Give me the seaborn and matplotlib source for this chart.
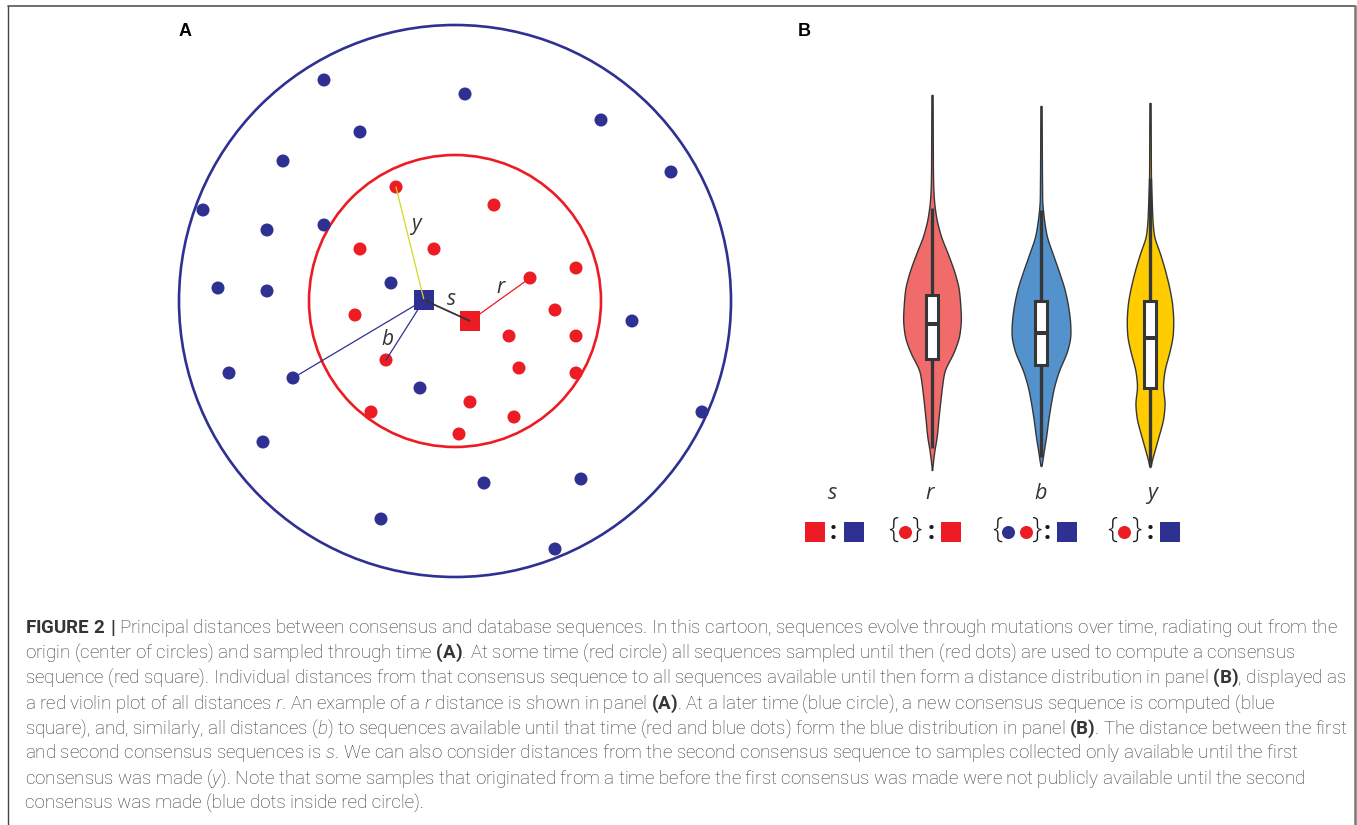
import numpy as np
import pandas as pd
import matplotlib
matplotlib.use("Agg")
import matplotlib.pyplot as plt
from matplotlib.patches import Circle, Rectangle
from matplotlib.lines import Line2D
import seaborn as sns

# ---------------------------------------------------------------------------
# Panel A: cartoon of sequences radiating out from the origin
# (coordinates in arbitrary sequence-space units, origin = first ancestor)
# ---------------------------------------------------------------------------
RING_RADII = [27.6, 14.6]            # sampling horizon: later time, earlier time
LATER_X = [-13.1, 1.0, 14.6, -9.5, -17.2, 21.6, -25.2, -18.8, -13.1, -23.7, -18.8,
           -6.4, 17.7, -22.6, -16.2, -3.5, 24.7, -19.2, 2.9, 12.6, -7.4, 10.0]
LATER_Y = [22.1, 20.7, 18.1, 16.9, 14.0, 12.9, 9.1, 7.1, 7.6, 1.3, 1.0,
           1.8, -2.0, -7.2, -7.7, -8.7, -11.1, -14.1, -18.2, -17.8, -21.8, -24.8]
EARLY_X = [-5.9, 3.9, -9.5, -2.1, 12.1, 7.5, -10.0, 10.0, 5.4, 12.1, -6.9,
           6.4, 12.1, -8.4, 1.5, 5.9, 0.4]
EARLY_Y = [11.4, 9.6, 5.2, 5.2, 3.3, 2.3, -1.4, -0.9, -3.5, -3.5, -5.9,
           -6.7, -7.2, -11.1, -10.1, -11.6, -13.3]
CONSENSUS_X = [-3.1, 1.5]             # second (blue), first (red)
CONSENSUS_Y = [0.1, -2.0]

# example distances: (label, start, end)
DISTANCE_LINKS = [
    ("y", ("early", 0), ("cons", 0)),
    ("s", ("cons", 0), ("cons", 1)),
    ("r", ("cons", 1), ("early", 5)),
    ("b", ("cons", 0), ("later", 14)),
    ("b", ("cons", 0), ("early", 10)),
]
DISTANCE_LABELS = ["y", "s", "r", "b"]
DISTANCE_LABEL_X = [-3.9, -0.35, 4.6, -6.75]
DISTANCE_LABEL_Y = [7.1, -0.4, 0.8, -4.4]

# ---------------------------------------------------------------------------
# Panel B: distance distributions (arbitrary distance units)
# ---------------------------------------------------------------------------
CATEGORIES = ["s", "r", "b", "y"]
R_LEVELS = [37.7, 30.2, 28.5, 26.9, 25.2, 23.5, 21.9, 20.2, 18.5, 16.9, 15.2,
            13.5, 11.9, 10.2, 8.5, 6.9, 5.2, 3.5, 2.2, 1.2, 0.2]
R_DENSITY = [0.02, 0.03, 0.04, 0.07, 0.15, 0.30, 0.52, 0.73, 0.89, 0.94, 0.97,
             0.91, 0.72, 0.41, 0.33, 0.27, 0.21, 0.16, 0.08, 0.04, 0.0]
B_LEVELS = [36.6, 30.2, 26.9, 25.2, 23.5, 21.9, 20.2, 18.5, 16.9, 15.2, 13.5,
            11.9, 10.2, 8.5, 6.9, 5.2, 3.5, 1.9, 0.9, 0.6]
B_DENSITY = [0.02, 0.03, 0.04, 0.10, 0.19, 0.38, 0.58, 0.77, 0.89, 0.97, 0.99,
             0.86, 0.60, 0.43, 0.33, 0.24, 0.17, 0.08, 0.04, 0.0]
Y_LEVELS = [36.9, 29.4, 26.9, 25.2, 23.5, 21.9, 20.2, 18.5, 16.9, 15.2, 13.5,
            11.9, 10.2, 8.5, 6.9, 5.2, 3.5, 1.9, 0.5]
Y_DENSITY = [0.02, 0.03, 0.06, 0.08, 0.13, 0.33, 0.50, 0.64, 0.74, 0.78, 0.76,
             0.64, 0.48, 0.42, 0.50, 0.44, 0.28, 0.13, 0.0]
# box statistics: lower whisker, q1, median, q3, upper whisker
R_BOX = [2.4, 11.3, 14.8, 17.7, 26.4]
B_BOX = [1.5, 10.7, 13.9, 17.1, 26.2]
Y_BOX = [0.6, 8.4, 13.4, 17.1, 29.4]

CAPTION_LINES = [
    r"$\mathbf{FIGURE\ 2\ |}$ Principal distances between consensus and database sequences. In this cartoon, sequences evolve through mutations over time, radiating out from the",
    r"origin (center of circles) and sampled through time $\mathbf{(A)}$. At some time (red circle) all sequences sampled until then (red dots) are used to compute a consensus",
    r"sequence (red square). Individual distances from that consensus sequence to all sequences available until then form a distance distribution in panel $\mathbf{(B)}$, displayed as",
    r"a red violin plot of all distances $\mathit{r}$. An example of a $\mathit{r}$ distance is shown in panel $\mathbf{(A)}$. At a later time (blue circle), a new consensus sequence is computed (blue",
    r"square), and, similarly, all distances ($\mathit{b}$) to sequences available until that time (red and blue dots) form the blue distribution in panel $\mathbf{(B)}$. The distance between the first",
    r"and second consensus sequences is $\mathit{s}$. We can also consider distances from the second consensus sequence to samples collected only available until the first",
    r"consensus was made ($\mathit{y}$). Note that some samples that originated from a time before the first consensus was made were not publicly available until the second",
    r"consensus was made (blue dots inside red circle).",
]

# ---------------------------------------------------------------------------
NAVY = "#2E3192"
RED = "#ED1C24"
LINK_COLORS = {"y": "#D2D820", "s": "#333333", "r": RED, "b": NAVY}
VIOLIN_COLORS = {"r": "#F26B6B", "b": "#5492CE", "y": "#FFCC00"}
EDGE = "#363636"
INK = "#333333"

sns.set_theme(style="white")
plt.rcParams["font.family"] = ["Open Sans", "DejaVu Sans"]
plt.rcParams["mathtext.fontset"] = "custom"
plt.rcParams["mathtext.rm"] = "Roboto:light"
plt.rcParams["mathtext.it"] = "Roboto:italic:light"
plt.rcParams["mathtext.bf"] = "Roboto:bold"

W, H = 1357, 825
fig = plt.figure(figsize=(W / 100, H / 100), dpi=100)
fig.patch.set_facecolor("white")


def frac(x0, y0, x1, y1):
    return [x0 / W, 1 - y1 / H, (x1 - x0) / W, (y1 - y0) / H]


# overlay in pixel units for frame, panel letters, symbol key and caption
axT = fig.add_axes([0, 0, 1, 1])
axT.set_xlim(0, W)
axT.set_ylim(H, 0)
axT.axis("off")

# ----------------------------- panel A --------------------------------------
axA = fig.add_axes(frac(170, 15, 740, 590))
axA.set_xlim(-28.5, 28.5)
axA.set_ylim(-28.9, 28.6)
axA.axis("off")

for radius, col in zip(RING_RADII, [NAVY, RED]):
    axA.add_patch(Circle((0, 0), radius, fill=False, ec=col, lw=1.9, zorder=2))

dots = pd.DataFrame({
    "x": LATER_X + EARLY_X,
    "y": LATER_Y + EARLY_Y,
    "when": ["later"] * len(LATER_X) + ["early"] * len(EARLY_X),
})
sns.scatterplot(data=dots, x="x", y="y", hue="when",
                palette={"later": NAVY, "early": RED}, s=88, linewidth=0,
                legend=False, ax=axA, zorder=3)

cons = pd.DataFrame({"x": CONSENSUS_X, "y": CONSENSUS_Y, "which": ["second", "first"]})
sns.scatterplot(data=cons, x="x", y="y", hue="which",
                palette={"second": NAVY, "first": RED}, marker="s", s=228,
                linewidth=0, legend=False, ax=axA, zorder=4)

points = {
    "later": list(zip(LATER_X, LATER_Y)),
    "early": list(zip(EARLY_X, EARLY_Y)),
    "cons": list(zip(CONSENSUS_X, CONSENSUS_Y)),
}
for label, (g0, i0), (g1, i1) in DISTANCE_LINKS:
    (x0, y0), (x1, y1) = points[g0][i0], points[g1][i1]
    sns.lineplot(x=[x0, x1], y=[y0, y1], sort=False, estimator=None,
                 color=LINK_COLORS[label], lw=1.3 if label == "s" else 0.9,
                 ax=axA, zorder=5)

for lab, lx, ly in zip(DISTANCE_LABELS, DISTANCE_LABEL_X, DISTANCE_LABEL_Y):
    axA.text(lx, ly, lab, fontsize=15, style="italic", color=INK,
             ha="center", va="baseline", zorder=6)

# ----------------------------- panel B --------------------------------------
COL_PX = 109.0   # pixels between category columns
axB = fig.add_axes(frac(770, 60, 1200, 560))
axB.set_xlim((770 - 823) / COL_PX, (1200 - 823) / COL_PX)
axB.set_ylim(-8.8, 41.2)
axB.axis("off")

HALF_WIDTH = 30 / COL_PX
BOX_HALF = 6.3 / COL_PX


def smooth_profile(levels, density, n=500, sigma=0.45):
    lv = np.asarray(levels, float)[::-1]
    dv = np.asarray(density, float)[::-1]
    grid = np.linspace(lv[0], lv[-1], n)
    w = np.interp(grid, lv, dv)
    step = grid[1] - grid[0]
    half = int(3 * sigma / step)
    k = np.exp(-0.5 * ((np.arange(-half, half + 1) * step) / sigma) ** 2)
    k /= k.sum()
    ws = np.convolve(np.pad(w, half, mode="edge"), k, mode="valid")
    ws[0] = dv[0]
    return grid, ws


violins = {
    "r": (R_LEVELS, R_DENSITY, R_BOX),
    "b": (B_LEVELS, B_DENSITY, B_BOX),
    "y": (Y_LEVELS, Y_DENSITY, Y_BOX),
}
for cat, (levels, density, box) in violins.items():
    pos = CATEGORIES.index(cat)
    d, w = smooth_profile(levels, density)
    w = np.maximum(w, 0.012) * HALF_WIDTH
    axB.fill_betweenx(d, pos - w, pos + w, facecolor=VIOLIN_COLORS[cat],
                      edgecolor=EDGE, lw=1.0, zorder=1)
    lo, q1, med, q3, hi = box
    axB.plot([pos, pos], [lo, hi], color=EDGE, lw=2.4, solid_capstyle="butt", zorder=2)
    axB.add_patch(Rectangle((pos - BOX_HALF, q1), 2 * BOX_HALF, q3 - q1,
                            facecolor="white", edgecolor=EDGE, lw=2.2, zorder=3))
    axB.plot([pos - BOX_HALF, pos + BOX_HALF], [med, med], color=EDGE, lw=2.9,
             solid_capstyle="butt", zorder=4)

# category names and symbol key under the violins (pixel layout on overlay)
label_px = [832, 930, 1041, 1152]
for cat, xp in zip(CATEGORIES, label_px):
    axT.text(xp, 499, cat, fontsize=15.5, style="italic", color=INK,
             ha="center", va="baseline")

KEY_Y = 532
key = [
    [("sq", RED, 815), (":", None, 833), ("sq", NAVY, 853.5)],
    [("{", None, 893), ("dot", RED, 905), ("}", None, 917), (":", None, 931), ("sq", RED, 951)],
    [("{", None, 997), ("dot", NAVY, 1008), ("dot", RED, 1026), ("}", None, 1037),
     (":", None, 1047), ("sq", NAVY, 1066.5)],
    [("{", None, 1112), ("dot", RED, 1124), ("}", None, 1137), (":", None, 1150),
     ("sq", NAVY, 1169.5)],
]
for group in key:
    for kind, col, xp in group:
        if kind == "sq":
            axT.scatter([xp], [KEY_Y], marker="s", s=228, color=col, linewidths=0)
        elif kind == "dot":
            axT.scatter([xp], [KEY_Y], marker="o", s=88, color=col, linewidths=0)
        elif kind == ":":
            axT.text(xp, 539, ":", fontsize=18, fontweight="bold", color="#1a1a1a",
                     ha="center", va="baseline")
        else:
            axT.text(xp, 538, kind, fontsize=21, fontweight="light", color="#1a1a1a",
                     ha="center", va="baseline")

# ----------------------------- frame & letters ------------------------------
axT.add_line(Line2D([8, 8], [6, H + 5], color="#444444", lw=1.0))
axT.add_line(Line2D([8, 1355], [6, 6], color="#555555", lw=1.2))
axT.add_line(Line2D([1355, 1355], [6, H + 5], color="#777777", lw=1.8))

for letter, xp in [("A", 185.5), ("B", 804)]:
    axT.text(xp, 32, letter, fontsize=13, fontweight="bold", family="Liberation Sans",
             color="black", ha="center", va="center")

# ----------------------------- caption --------------------------------------
cap_texts = []
for i, line in enumerate(CAPTION_LINES):
    t = axT.text(25, 633 + 25.1 * i, line, fontsize=12, family="Roboto",
                 fontweight="light", color="#353535", ha="left", va="baseline")
    cap_texts.append(t)

fig.canvas.draw()
renderer = fig.canvas.get_renderer()
natural = cap_texts[5].get_window_extent(renderer).width
size = 12 * 1274 / natural
for t in cap_texts:
    t.set_fontsize(size)

fig.savefig("out.png", dpi=100, facecolor="white")
